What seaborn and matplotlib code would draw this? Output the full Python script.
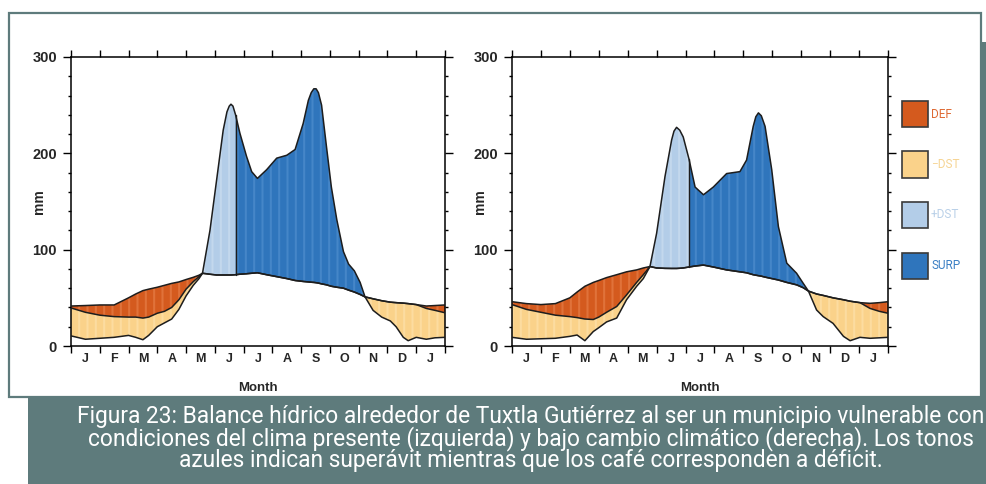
import numpy as np
import pandas as pd
import matplotlib
matplotlib.use("Agg")
import matplotlib.pyplot as plt
from matplotlib.patches import Rectangle
import seaborn as sns

# ---------------------------------------------------------------- data
MONTH_LABELS = ["J", "F", "M", "A", "M", "J", "J", "A", "S", "O", "N", "D", "J"]
SERIES_LABELS = ["DEF", "\u2212DST", "+DST", "SURP"]

# present climate (position in months from 1 January, values in mm)
month_now = [0, 0.5, 1.0, 1.5, 2.0, 2.25, 2.5, 2.7, 3.0, 3.25, 3.5, 3.75, 4.0, 4.25,
             4.45, 4.57, 4.83, 5.06, 5.29, 5.42, 5.5, 5.56, 5.63, 5.72, 5.87, 6.1,
             6.28, 6.48, 6.8, 7.15, 7.5, 7.79, 8.07, 8.25, 8.35, 8.44, 8.52, 8.6,
             8.71, 8.88, 9.05, 9.24, 9.47, 9.65, 9.85, 10.05, 10.22, 10.5, 10.8,
             11.1, 11.3, 11.55, 11.72, 12.0, 12.35, 12.65, 13.0]
prec_now = [10.5, 7, 8, 9, 11, 9, 6.5, 11, 20, 24, 28, 38, 52, 63,
            70, 75.5, 120, 172, 224, 243, 249, 251, 249, 240, 221, 197,
            181, 174, 183, 195, 198, 204, 231, 255, 263, 267, 267, 263,
            250, 207, 165, 131, 98, 85, 78, 66, 51, 37, 30,
            26, 20, 9, 5.5, 9, 7, 8.5, 9]
pet_now = [41.5, 42, 42.6, 42.6, 50, 54, 57.5, 59, 61, 63, 65, 66.5, 69, 71.3,
           73.5, 75.5, 74.5, 73.7, 73.7, 73.7, 73.7, 73.7, 73.8, 74, 74.5, 75,
           75.5, 76, 74, 72, 70, 68, 67, 66.5, 66.2, 66, 65.7, 65.3,
           64.5, 63.5, 62, 61, 60, 58, 56, 53.5, 51, 49, 47,
           45.5, 45, 44.5, 44, 43, 41.5, 42, 42.6]
aet_now = [39.5, 35, 32, 30.5, 30, 30, 29, 30, 34, 36, 40, 48, 59, 66.8,
           72, 75.5, 74.5, 73.7, 73.7, 73.7, 73.7, 73.7, 73.8, 74, 74.5, 75,
           75.5, 76, 74, 72, 70, 68, 67, 66.5, 66.2, 66, 65.7, 65.3,
           64.5, 63.5, 62, 61, 60, 58, 56, 53.5, 51, 49, 47,
           45.5, 45, 44.5, 44, 43, 39, 37, 34.5]
recharge_end_now = 5.72

# climate change scenario
month_fut = [0, 0.5, 1.0, 1.5, 2.0, 2.25, 2.52, 2.81, 3.0, 3.27, 3.62, 3.96, 4.31,
             4.54, 4.77, 5.0, 5.29, 5.52, 5.6, 5.69, 5.8, 5.92, 6.12, 6.33, 6.62,
             6.96, 7.42, 7.88, 8.11, 8.34, 8.43, 8.52, 8.62, 8.75, 8.98, 9.21, 9.5,
             9.84, 10.07, 10.25, 10.53, 10.76, 11.1, 11.46, 11.69, 12.03, 12.38,
             12.7, 13.0]
prec_fut = [9, 7, 7.5, 8, 10, 11.4, 5.5, 15, 19, 25, 29, 48, 62,
            70, 82.5, 117, 176, 214, 223, 227, 224, 217, 194, 165, 157,
            165, 179, 181, 193, 228, 238, 242, 239, 228, 183, 124, 86,
            75.5, 65, 57, 37.4, 30.5, 23.5, 10, 5.5, 9, 8,
            8.5, 9]
pet_fut = [46, 44, 43, 44, 50, 56, 62, 66, 68, 71, 74, 77, 79,
           81, 82.5, 81, 80.6, 80.5, 80.5, 80.5, 80.7, 81, 82, 83, 84,
           82, 79, 77, 76, 74, 73.5, 73, 72.5, 71.5, 70, 68.5, 66,
           63.5, 60.5, 57, 54, 52.5, 50, 48, 46.5, 45, 44.3,
           45, 46]
aet_fut = [43, 38, 35, 32, 30.5, 29.5, 28, 27.5, 30, 35, 41, 53, 66,
           74, 82.5, 81, 80.6, 80.5, 80.5, 80.5, 80.7, 81, 82, 83, 84,
           82, 79, 77, 76, 74, 73.5, 73, 72.5, 71.5, 70, 68.5, 66,
           63.5, 60.5, 57, 54, 52.5, 50, 48, 46.5, 45, 39,
           36, 34]
recharge_end_fut = 6.12

# ---------------------------------------------------------------- style
KEYS = ["DEF", "NEG", "POS", "SURP"]
FILL = {"DEF": "#d45a1e", "NEG": "#fad28a", "POS": "#b3cde8", "SURP": "#2f75bc"}
STRIPE = {"DEF": "#e0723a", "NEG": "#fcdca0", "POS": "#c3d8ed", "SURP": "#4586c8"}
TEXT_COL = ["#de6a34", "#f6d493", "#b9d0e8", "#3a7fc4"]
TEAL = "#5e7b7c"
LINE = "#1d1d1d"

sns.set_theme(style="ticks")
plt.rcParams["font.family"] = ["Liberation Sans", "DejaVu Sans"]
plt.rcParams["hatch.linewidth"] = 1.5
plt.rcParams["axes.linewidth"] = 1.1
plt.rcParams["axes.edgecolor"] = "black"

W, H = 986, 484
fig = plt.figure(figsize=(W / 100, H / 100), dpi=100)
fig.patch.set_facecolor("white")


def frac(x0, y0, x1, y1):
    """pixel box (top-left origin) -> figure fraction rect"""
    return [x0 / W, 1 - y1 / H, (x1 - x0) / W, (y1 - y0) / H]


def panel(ax, month, prec, pet, aet, split):
    x = np.asarray(month, float)
    p = np.asarray(prec, float)
    e = np.asarray(pet, float)
    a = np.asarray(aet, float)

    ax.fill_between(x, a, e, facecolor=FILL["DEF"], edgecolor=STRIPE["DEF"],
                    hatch="||", linewidth=0, zorder=1)
    ax.fill_between(x, p, a, where=a >= p, interpolate=True, facecolor=FILL["NEG"],
                    edgecolor=STRIPE["NEG"], hatch="||", linewidth=0, zorder=1)
    wet = p >= e
    ax.fill_between(x, e, p, where=wet & (x <= split), facecolor=FILL["POS"],
                    edgecolor=STRIPE["POS"], hatch="||", linewidth=0, zorder=1)
    ax.fill_between(x, e, p, where=wet & (x >= split), facecolor=FILL["SURP"],
                    edgecolor=STRIPE["SURP"], hatch="||", linewidth=0, zorder=1)

    df = pd.concat([
        pd.DataFrame({"month": x, "mm": p, "series": "P"}),
        pd.DataFrame({"month": x, "mm": e, "series": "PET"}),
        pd.DataFrame({"month": x, "mm": a, "series": "AET"}),
    ])
    sns.lineplot(data=df, x="month", y="mm", units="series", estimator=None,
                 color=LINE, linewidth=1.1, ax=ax, legend=False, zorder=3)
    i = int(np.argmin(np.abs(x - split)))
    ax.plot([x[i], x[i]], [e[i], p[i]], color=LINE, linewidth=1.0, zorder=3)

    ax.set_xlim(0, 13)
    ax.set_ylim(0, 300)
    ax.set_xticks(np.arange(14))
    ax.set_xticklabels([])
    ax.set_xticks(np.arange(13) + 0.5, minor=True)
    ax.set_xticklabels(MONTH_LABELS, minor=True)
    ax.tick_params(axis="x", which="major", direction="out", length=5, width=1.0,
                   top=True, bottom=True, color="black")
    ax.tick_params(axis="x", which="minor", length=0, pad=5, labelsize=9)
    for t in ax.get_xticklabels(minor=True):
        t.set_fontweight("bold")
    ax.set_yticks([0, 100, 200, 300])
    ax.set_yticks(np.arange(0, 301, 20), minor=True)
    ax.tick_params(axis="y", which="major", direction="out", length=6, width=1.0,
                   left=True, right=True, labelsize=10.5, pad=4, color="black")
    ax.tick_params(axis="y", which="minor", direction="out", length=2.5, width=1.0,
                   left=True, right=True, color="black")
    for t in ax.get_yticklabels():
        t.set_fontweight("bold")
    for sp in ax.spines.values():
        sp.set_visible(True)
        sp.set_color("black")
        sp.set_linewidth(1.1)
    ax.set_xlabel("Month", fontsize=9.5, fontweight="bold", labelpad=12)
    ax.set_ylabel("mm", fontsize=10, fontweight="bold")
    ax.yaxis.set_label_coords(-0.066, 0.5)
    ax.set_facecolor("white")


# frame and caption band
fig.add_artist(Rectangle((9 / W, 1 - 397 / H), (981 - 9) / W, (397 - 13) / H,
                         transform=fig.transFigure, facecolor="none",
                         edgecolor=TEAL, linewidth=1.6, zorder=0))
fig.add_artist(Rectangle((980 / W, 0), 6 / W, (H - 42) / H, transform=fig.transFigure,
                         facecolor=TEAL, edgecolor="none", zorder=0))
fig.add_artist(Rectangle((28 / W, 0), (W - 28) / W, (H - 398) / H,
                         transform=fig.transFigure, facecolor=TEAL,
                         edgecolor="none", zorder=0))

ax1 = fig.add_axes(frac(71, 57, 445, 346))
ax2 = fig.add_axes(frac(512, 57, 888, 346))
panel(ax1, month_now, prec_now, pet_now, aet_now, recharge_end_now)
panel(ax2, month_fut, prec_fut, pet_fut, aet_fut, recharge_end_fut)

# key: colour squares with coloured names to the right of the second panel
for k, (key, label, col) in enumerate(zip(KEYS, SERIES_LABELS, TEXT_COL)):
    top = 101 + 50.5 * k
    fig.add_artist(Rectangle((902 / W, 1 - (top + 26) / H), 26 / W, 26 / H,
                             transform=fig.transFigure, facecolor=FILL[key],
                             edgecolor="#3a3a3a", linewidth=1.2, zorder=2))
    fig.text(931 / W, 1 - (top + 13) / H, label, ha="left", va="center",
             color=col, fontsize=8.5, family=["Roboto", "DejaVu Sans"])

caption = [
    "Figura 23: Balance hídrico alrededor de Tuxtla Gutiérrez al ser un municipio vulnerable con",
    "condiciones del clima presente (izquierda) y bajo cambio climático (derecha). Los tonos",
    "azules indican superávit mientras que los café corresponden a déficit.",
]
cap_texts = []
for line, yc in zip(caption, [416, 439, 461]):
    cap_texts.append(fig.text(531 / W, 1 - yc / H, line, ha="center", va="center",
                              color="white", fontsize=16,
                              family=["Roboto", "DejaVu Sans"]))
# size the caption so its first line spans the band
renderer = fig.canvas.get_renderer()
w0 = cap_texts[0].get_window_extent(renderer).width
size = 16 * 908 / w0
for t in cap_texts:
    t.set_fontsize(size)

fig.savefig("out.png", dpi=100, facecolor="white")
